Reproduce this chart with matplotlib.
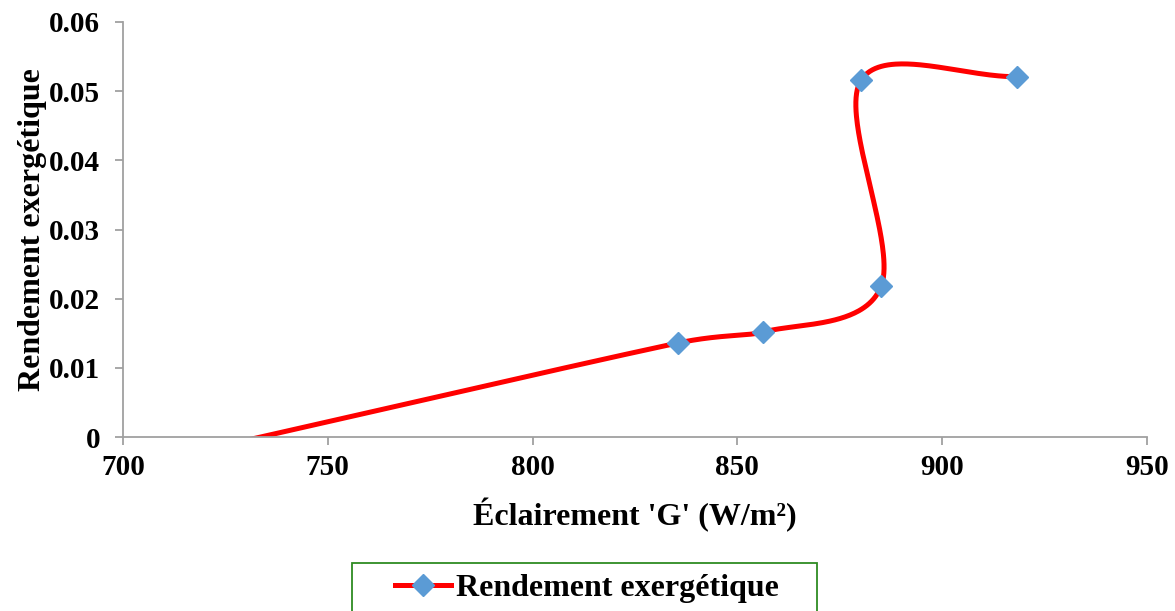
import numpy as np
import matplotlib
matplotlib.use("Agg")
import matplotlib.pyplot as plt
from matplotlib.patches import Rectangle
from matplotlib.lines import Line2D

# Data
irradiance = [715.0, 835.4, 856.3, 885.1, 880.2, 918.3]
efficiency = [-0.0025, 0.01358, 0.01517, 0.0218, 0.0516, 0.0521]
series_name = "Rendement exergétique"
x_label = "Éclairement 'G' (W/m²)"
y_label = "Rendement exergétique"
x_ticks = [700, 750, 800, 850, 900, 950]
y_ticks = [0, 0.01, 0.02, 0.03, 0.04, 0.05, 0.06]
y_tick_labels = ["0", "0.01", "0.02", "0.03", "0.04", "0.05", "0.06"]


def smooth_pixels(P, n=80):
    """Excel-like smoothed line (Bezier with capped Catmull-Rom tangents), in pixel space."""
    out = []
    m = len(P)
    for i in range(m - 1):
        p1 = P[i]
        p2 = P[i + 1]
        p0 = P[i - 1] if i > 0 else P[i]
        p3 = P[i + 2] if i + 2 < m else P[i + 1]
        d12 = np.hypot(*(p2 - p1))
        d02 = np.hypot(*(p2 - p0))
        d13 = np.hypot(*(p3 - p1))
        fa = 1 / 6 if i > 0 else 1 / 3
        fb = 1 / 6 if i + 2 < m else 1 / 3
        big0 = d02 * fa >= d12 / 2
        big1 = d13 * fb >= d12 / 2
        if big0 and big1:
            fa = d12 / (2 * d02)
            fb = d12 / (2 * d13)
        elif big0:
            fa = d12 / (2 * d02)
            fb = min(fb, fa)
        elif big1:
            fb = d12 / (2 * d13)
            fa = min(fa, fb)
        c1 = p1 + (p2 - p0) * fa
        c2 = p2 - (p3 - p1) * fb
        t = np.linspace(0, 1, n)[:, None]
        seg = ((1 - t) ** 3) * p1 + 3 * ((1 - t) ** 2) * t * c1 + 3 * (1 - t) * t ** 2 * c2 + t ** 3 * p2
        out.append(seg if i == 0 else seg[1:])
    return np.vstack(out)


plt.rcParams['font.family'] = ['Liberation Serif', 'DejaVu Serif']
plt.rcParams['font.weight'] = 'bold'

fig = plt.figure(figsize=(11.75, 6.11), dpi=100)
W, H = 1175, 611
ax = fig.add_axes([123 / W, 1 - 437 / H, (1147 - 123) / W, (437 - 22) / H])

ax.set_xlim(700, 950)
ax.set_ylim(0, 0.06)

red = '#FF0000'
blue = '#5B9BD5'

# Smooth the curve in display space (like Excel), then map back to data
pts_disp = ax.transData.transform(np.column_stack([irradiance, efficiency]))
curve_disp = smooth_pixels(pts_disp)
curve_data = ax.transData.inverted().transform(curve_disp)
ax.plot(curve_data[:, 0], curve_data[:, 1], color=red, lw=3.6,
        solid_capstyle='butt', zorder=2)
ax.plot(irradiance, efficiency, linestyle='none', marker='D', ms=11,
        color=blue, markeredgecolor=blue, zorder=3)

ax.set_xticks(x_ticks)
ax.set_xticklabels([str(v) for v in x_ticks])
ax.set_yticks(y_ticks)
ax.set_yticklabels(y_tick_labels)

for s in ['top', 'right']:
    ax.spines[s].set_visible(False)
for s in ['left', 'bottom']:
    ax.spines[s].set_color('#A0A0A0')
    ax.spines[s].set_linewidth(1.3)

ax.tick_params(axis='both', direction='out', length=5.5, width=1.3, color='#A0A0A0',
               labelsize=21, labelcolor='black')
ax.tick_params(axis='x', pad=7)
ax.tick_params(axis='y', pad=11)
for lab in ax.get_xticklabels() + ax.get_yticklabels():
    lab.set_fontweight('bold')

ax.set_xlabel(x_label, fontsize=23, fontweight='bold', labelpad=12)
ax.set_ylabel(y_label, fontsize=23, fontweight='bold', labelpad=1.5)

# Legend box
fig.patches.append(Rectangle((352 / W, 1 - 640 / H), (817 - 352) / W, (640 - 563) / H,
                             transform=fig.transFigure, fill=False,
                             edgecolor='#2E8B22', lw=1.3, clip_on=True))
handle = Line2D([], [], color=red, lw=3.6, marker='D', ms=11,
                markerfacecolor=blue, markeredgecolor=blue)
fig.legend([handle], [series_name], loc='center', bbox_to_anchor=(587 / W, 1 - 588 / H),
           frameon=False, handlelength=1.75, handletextpad=0.15,
           numpoints=1, prop={'weight': 'bold', 'size': 23})

fig.savefig('out.png', dpi=100)
